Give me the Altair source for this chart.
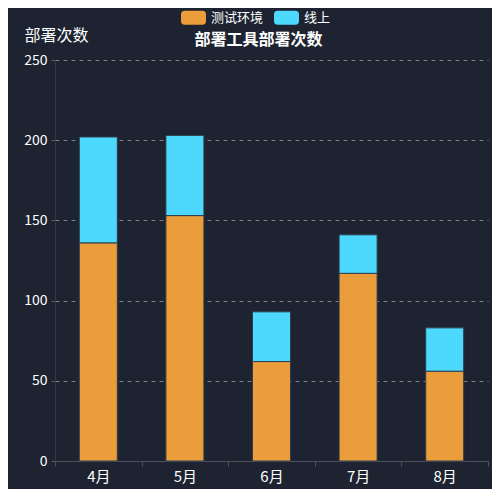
import altair as alt
import pandas as pd

months = ["4月", "5月", "6月", "7月", "8月"]
series = ["测试环境", "线上"]
test_env = [136, 153, 62, 117, 56]
online = [66, 50, 31, 24, 27]
colors = ["#ec9d3b", "#4dd8fe"]

rows = []
for m, a, b in zip(months, test_env, online):
    rows.append({"month": m, "env": series[0], "count": a, "rank": 0})
    rows.append({"month": m, "env": series[1], "count": b, "rank": 1})
df = pd.DataFrame(rows)

FONT = "Noto Sans CJK SC"
rounded = ("M-0.7,-0.56 L0.7,-0.56 Q1,-0.56 1,-0.26 L1,0.26 Q1,0.56 0.7,0.56 "
           "L-0.7,0.56 Q-1,0.56 -1,0.26 L-1,-0.26 Q-1,-0.56 -0.7,-0.56 Z")

chart = alt.Chart(df).mark_bar(size=38, stroke="#2f3d4c", strokeWidth=1).encode(
    x=alt.X("month:N", sort=months, title=None,
            scale=alt.Scale(paddingInner=0, paddingOuter=0),
            axis=alt.Axis(labelAngle=0, tickBand="extent", domainColor="#4a505c",
                          tickColor="#4a505c", tickSize=5, labelColor="#ffffff",
                          labelFontSize=15, labelPadding=3, grid=False)),
    y=alt.Y("count:Q", stack="zero", scale=alt.Scale(domain=[0, 250]),
            axis=alt.Axis(values=[0, 50, 100, 150, 200, 250], title="部署次数",
                          titleAngle=0, titleX=1, titleY=-25, titleAlign="center",
                          titleBaseline="middle", titleColor="#ffffff",
                          titleFontSize=16, titleFontWeight="normal",
                          grid=True, gridColor="#7a7f88", gridDash=[4, 4],
                          domainColor="#333a46", tickColor="#5a5f68", tickSize=4,
                          labelColor="#ffffff", labelFontSize=14, labelPadding=4)),
    color=alt.Color("env:N", sort=series,
                    scale=alt.Scale(domain=series, range=colors),
                    legend=alt.Legend(title=None, orient="none", direction="horizontal",
                                      legendX=126, legendY=-55, symbolType=rounded,
                                      symbolSize=625, symbolStrokeWidth=0,
                                      symbolOpacity=1, labelColor="#ffffff",
                                      labelFontSize=13, labelOffset=5,
                                      columnPadding=10, padding=0)),
    order=alt.Order("rank:Q", sort="ascending"),
).properties(
    width=433,
    height=401,
    padding={"left": 47, "top": 52, "right": 4, "bottom": 28},
    autosize=alt.AutoSizeParams(type="none"),
    background="#1d2330",
    title=alt.TitleParams("部署工具部署次数", anchor="middle", frame="group",
                          fontSize=16, fontWeight="bold", color="#ffffff",
                          baseline="middle", offset=-51, dx=-13, font=FONT),
).configure(
    font=FONT
).configure_view(
    stroke=None
)

chart.save("out.html", embed_options={"renderer": "svg", "actions": False})
